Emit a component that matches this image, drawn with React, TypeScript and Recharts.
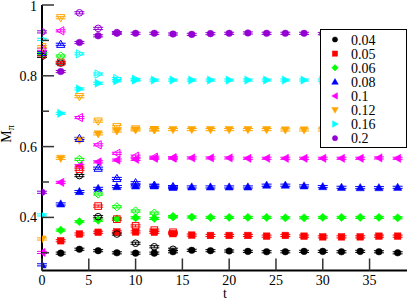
import { ScatterChart, Scatter, XAxis, YAxis, ErrorBar, Legend } from 'recharts'

const masses = ['0.04', '0.05', '0.06', '0.08', '0.1', '0.12', '0.16', '0.2']
const colors = ['#000000', '#ff0000', '#00ff00', '#0000ff', '#ff00ff', '#ffa500', '#00ffff', '#9400d3']
const shapes = ['circle', 'square', 'diamond', 'triUp', 'triLeft', 'triDown', 'triRight', 'circle']

// filled symbols: t = 0..38
const tFilled = [0, 2, 4, 6, 8, 10, 12, 14, 16, 18, 20, 22, 24, 26, 28, 30, 32, 34, 36, 38]
const filled004 = [null, 0.299, 0.31, 0.306, 0.3, 0.299, 0.299, 0.303, 0.307, 0.306, 0.305, 0.304, 0.303, 0.303, 0.304, 0.304, 0.303, 0.304, 0.303, 0.3]
const filled005 = [null, 0.334, 0.353, 0.358, 0.359, 0.359, 0.358, 0.354, 0.35, 0.349, 0.349, 0.349, 0.347, 0.349, 0.347, 0.345, 0.345, 0.345, 0.347, 0.347]
const filled006 = [null, 0.364, 0.388, 0.392, 0.396, 0.399, 0.397, 0.402, 0.401, 0.4, 0.4, 0.4, 0.4, 0.399, 0.399, 0.4, 0.4, 0.4, 0.4, 0.399]
const filled008 = [0.266, 0.438, 0.473, 0.482, 0.487, 0.489, 0.489, 0.485, 0.486, 0.486, 0.486, 0.486, 0.491, 0.491, 0.489, 0.487, 0.485, 0.484, 0.484, 0.485]
const filled01 = [0.301, 0.499, 0.546, 0.557, 0.562, 0.564, 0.567, 0.568, 0.568, 0.568, 0.568, 0.567, 0.567, 0.567, 0.567, 0.567, 0.567, 0.567, 0.568, 0.567]
const filled012 = [0.339, 0.567, 0.618, 0.636, 0.644, 0.647, 0.647, 0.648, 0.648, 0.648, 0.648, 0.648, 0.648, 0.647, 0.647, 0.647, 0.647, 0.647, 0.647, 0.647]
const filled016 = [0.407, 0.694, 0.763, 0.779, 0.786, 0.788, 0.788, 0.788, 0.788, 0.788, 0.788, 0.788, 0.788, 0.788, 0.788, 0.788, 0.788, 0.788, 0.788, 0.788]
const filled02 = [0.471, 0.812, 0.894, 0.913, 0.92, 0.92, 0.92, 0.918, 0.917, 0.919, 0.92, 0.921, 0.92, 0.92, 0.92, 0.919, 0.919, 0.92, 0.92, 0.92]

// open symbols: early times only
const tOpen = [0, 2, 4, 6, 8, 10, 12, 14]
const open004 = [0.855, 0.836, 0.518, 0.402, 0.353, 0.327, 0.317, 0.31]
const open005 = [0.859, 0.838, 0.536, 0.432, 0.395, 0.376, 0.364, 0.358]
const open006 = [0.863, 0.856, 0.564, 0.466, 0.43, 0.418, 0.412, 0.402]
const open008 = [0.866, 0.889, 0.623, 0.539, 0.51, 0.498, 0.491, 0.487]
const open01 = [0.875, 0.927, 0.682, 0.605, 0.581, 0.573, 0.57, 0.568]
const open012 = [0.882, 0.964, 0.741, 0.672, 0.656, 0.65, 0.648, null]
const open016 = [0.903, null, 0.862, 0.805, 0.792, 0.79, null, null]
const open02 = [0.924, null, 0.978, 0.934, 0.922, null, null, null]

const filledSets = [filled004, filled005, filled006, filled008, filled01, filled012, filled016, filled02]
const openSets = [open004, open005, open006, open008, open01, open012, open016, open02]
const err = 0.003

const xTicks = [0, 5, 10, 15, 20, 25, 30, 35]
const yMajor = [0.4, 0.6, 0.8, 1]
const yTicks = [0.3, 0.4, 0.5, 0.6, 0.7, 0.8, 0.9, 1]

const FONT = 'Liberation Serif, Tinos, DejaVu Serif, serif'

const toPoints = (ts: number[], vs: (number | null)[]) =>
  ts.map((t, i) => ({ t, v: vs[i], e: err })).filter((p) => p.v != null)

function Marker({ cx, cy, shape, color, open, r = 3.3 }: any) {
  const fill = open ? 'none' : color
  const sw = open ? 1 : 0.5
  const s = r * 1.25
  let d = ''
  if (shape === 'circle') return <circle cx={cx} cy={cy} r={r} fill={fill} stroke={color} strokeWidth={sw} />
  if (shape === 'square')
    return <rect x={cx - r} y={cy - r} width={2 * r} height={2 * r} fill={fill} stroke={color} strokeWidth={sw} />
  if (shape === 'diamond') d = `M${cx},${cy - s}L${cx + s},${cy}L${cx},${cy + s}L${cx - s},${cy}Z`
  if (shape === 'triUp') d = `M${cx},${cy - s}L${cx + s},${cy + s * 0.75}L${cx - s},${cy + s * 0.75}Z`
  if (shape === 'triDown') d = `M${cx},${cy + s}L${cx + s},${cy - s * 0.75}L${cx - s},${cy - s * 0.75}Z`
  if (shape === 'triLeft') d = `M${cx - s},${cy}L${cx + s * 0.75},${cy - s}L${cx + s * 0.75},${cy + s}Z`
  if (shape === 'triRight') d = `M${cx + s},${cy}L${cx - s * 0.75},${cy - s}L${cx - s * 0.75},${cy + s}Z`
  return <path d={d} fill={fill} stroke={color} strokeWidth={sw} />
}

const BottomTick = ({ x, y, payload }: any) => (
  <g>
    <line x1={x} x2={x} y1={y} y2={y - 12} stroke="#333" strokeWidth={1.5} />
    <text x={x} y={y + 14.5} textAnchor="middle" fontSize={14} style={{ fontFamily: FONT }} fill="#000">
      {payload.value}
    </text>
  </g>
)

const TopTick = ({ x, y }: any) => (
  <line x1={x} x2={x} y1={y} y2={y + 12} stroke="#333" strokeWidth={1.5} />
)

const LeftTick = ({ x, y, payload }: any) => {
  const major = yMajor.some((m) => Math.abs(m - payload.value) < 1e-6)
  const top = Math.abs(payload.value - 1) < 1e-6
  return (
    <g>
      <line x1={x} x2={x + (major ? 12 : 7)} y1={y} y2={y} stroke="#333" strokeWidth={1.5} />
      {major && (
        <text
          x={x - 5}
          y={top ? y + 6 : y + 5}
          textAnchor="end"
          fontSize={14}
          style={{ fontFamily: FONT }}
          fill="#000"
        >
          {payload.value}
        </text>
      )}
    </g>
  )
}

const RightTick = ({ x, y, payload }: any) => {
  const major = yMajor.some((m) => Math.abs(m - payload.value) < 1e-6)
  return <line x1={x} x2={x - (major ? 12 : 7)} y1={y} y2={y} stroke="#333" strokeWidth={1.5} />
}

const YLabel = () => (
  <text transform="translate(11,134) rotate(-90)" textAnchor="middle" fontSize={14} style={{ fontFamily: FONT }} fill="#000">
    M<tspan fontSize={10} dy={3}>π</tspan>
  </text>
)

const XLabel = () => (
  <text x={225} y={297.5} textAnchor="middle" fontSize={14} style={{ fontFamily: FONT }} fill="#000">
    t
  </text>
)

const renderLegend = () => (
  <svg width={87} height={119} style={{ display: 'block' }}>
    <rect x={0.5} y={0.5} width={86} height={118} fill="#fff" stroke="#000" />
    {masses.map((m, i) => (
      <g key={m}>
        <Marker cx={15} cy={10.5 + i * 14.1} shape={shapes[i]} color={colors[i]} r={2.6} />
        <text x={31} y={15.5 + i * 14.1} fontSize={14} style={{ fontFamily: FONT }} fill="#000">
          {m}
        </text>
      </g>
    ))}
  </svg>
)

export default function App() {
  return (
    <div style={{ position: 'absolute', left: 0, top: 0, width: 409, height: 299, background: '#fff' }}>
      <ScatterChart width={409} height={299} margin={{ top: 5, right: 2, bottom: 0, left: 0 }}>
        <XAxis
          dataKey="t"
          type="number"
          domain={[0, 39]}
          allowDataOverflow
          ticks={xTicks}
          interval={0}
          height={28.5}
          tickSize={0}
          tickMargin={0}
          tick={<BottomTick />}
          axisLine={{ stroke: '#000', strokeWidth: 2 }}
          tickLine={false}
          label={<XLabel />}
        />
        <XAxis
          xAxisId="top"
          orientation="top"
          type="number"
          domain={[0, 39]}
          allowDataOverflow
          ticks={xTicks}
          interval={0}
          height={0}
          tickSize={0}
          tickMargin={0}
          tick={<TopTick />}
          axisLine={{ stroke: '#000', strokeWidth: 2 }}
          tickLine={false}
        />
        <YAxis
          dataKey="v"
          type="number"
          domain={[0.25, 1]}
          allowDataOverflow
          ticks={yTicks}
          interval={0}
          width={42}
          tickSize={0}
          tickMargin={0}
          tick={<LeftTick />}
          axisLine={{ stroke: '#000', strokeWidth: 2 }}
          tickLine={false}
          label={<YLabel />}
        />
        <YAxis
          yAxisId="right"
          orientation="right"
          type="number"
          domain={[0.25, 1]}
          allowDataOverflow
          ticks={yTicks}
          interval={0}
          width={0}
          tickSize={0}
          tickMargin={0}
          tick={<RightTick />}
          axisLine={{ stroke: '#000', strokeWidth: 2 }}
          tickLine={false}
        />
        {masses.map((m, i) => (
          <Scatter
            key={'f' + m}
            name={m}
            data={toPoints(tFilled, filledSets[i])}
            isAnimationActive={false}
            shape={(p: any) => <Marker cx={p.cx} cy={p.cy} shape={shapes[i]} color={colors[i]} />}
          >
            <ErrorBar dataKey="e" direction="y" width={5} stroke={colors[i]} strokeWidth={1} />
          </Scatter>
        ))}
        {masses.map((m, i) => (
          <Scatter
            key={'o' + m}
            name={m + ' open'}
            data={toPoints(tOpen, openSets[i])}
            isAnimationActive={false}
            shape={(p: any) => <Marker cx={p.cx} cy={p.cy} shape={shapes[i]} color={colors[i]} open />}
          >
            <ErrorBar dataKey="e" direction="y" width={5} stroke={colors[i]} strokeWidth={1} />
          </Scatter>
        ))}
        <Legend
          content={renderLegend}
          layout="vertical"
          align="center"
          verticalAlign="middle"
          wrapperStyle={{ left: 320, top: 29, width: 87, height: 119 }}
        />
      </ScatterChart>
    </div>
  )
}
